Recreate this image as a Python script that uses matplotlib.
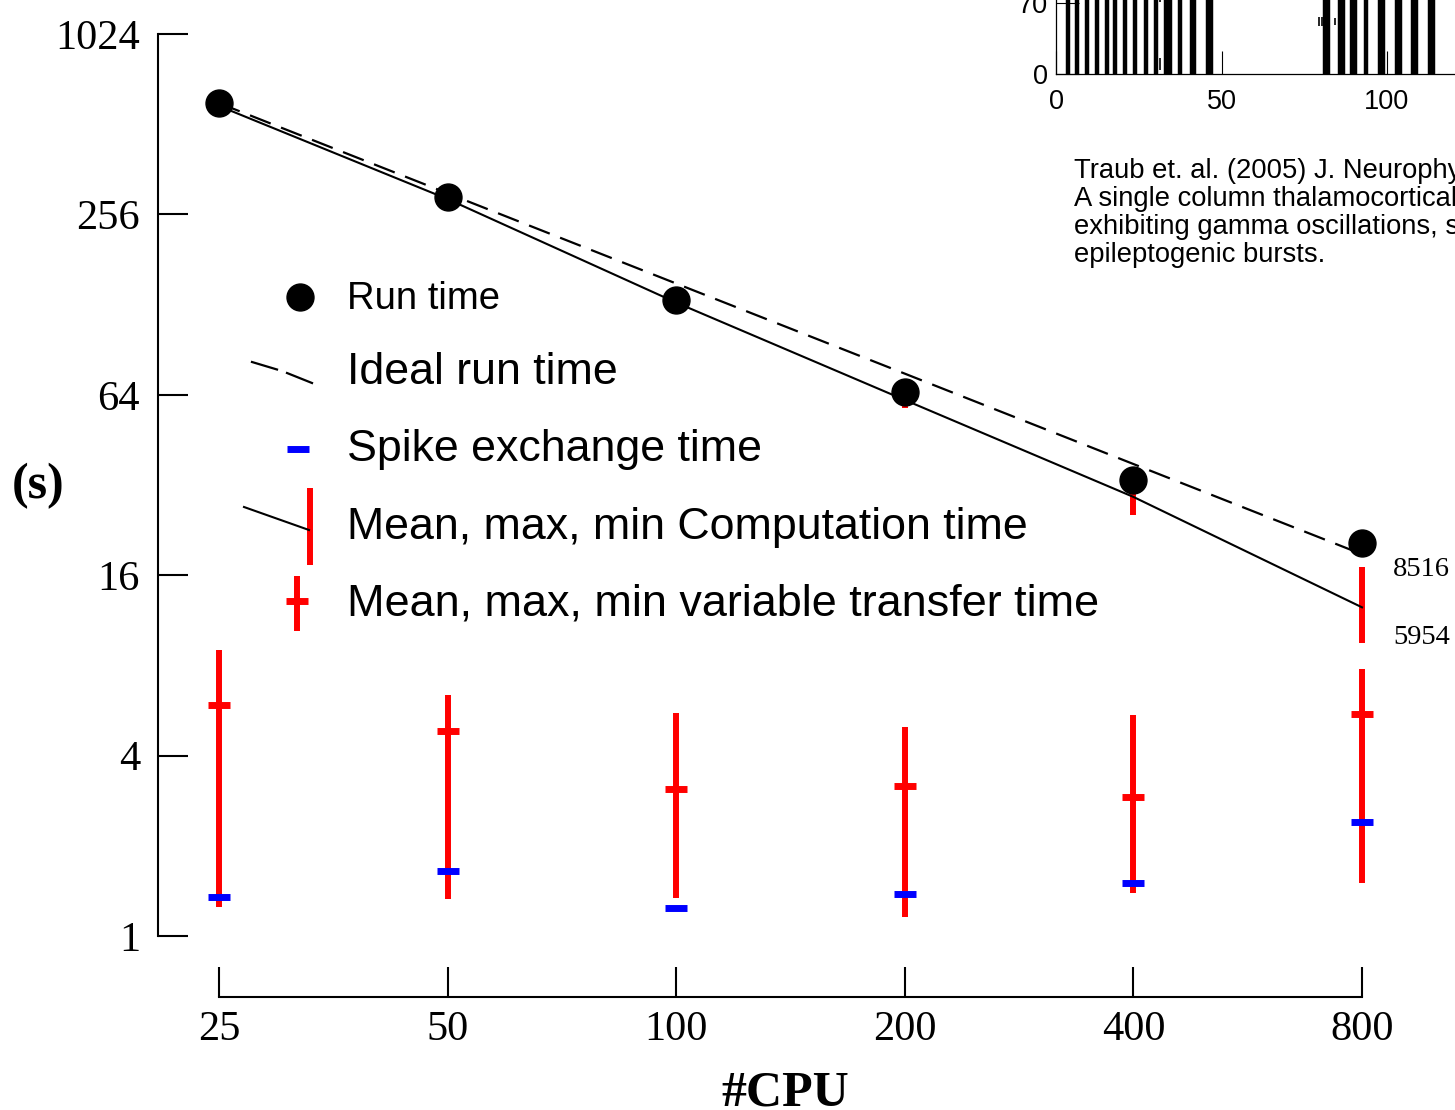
import numpy as np
import matplotlib
matplotlib.use('Agg')
import matplotlib.pyplot as plt

# scaling data (seconds) vs number of CPUs
cpus = [25, 50, 100, 200, 400, 800]
run_time = [602, 293, 133, 65.4, 33.2, 20.5]
ideal_time = [602, 301, 150.5, 75.3, 37.6, 18.8]
comp_mean = [589, 288, 130, 61.5, 29.2, 12.5]
comp_max = [630, 300, 137, 66, 36, 17.1]
comp_min = [565, 278, 124, 57.8, 25.4, 9.5]
xfer_mean = [5.90, 4.83, 3.09, 3.17, 2.91, 5.51]
xfer_max = [9.0, 6.37, 5.55, 4.98, 5.46, 7.78]
xfer_min = [1.25, 1.33, 1.34, 1.16, 1.39, 1.50]
spike_time = [1.35, 1.65, 1.24, 1.38, 1.50, 2.40]
y_ticks = [1, 4, 16, 64, 256, 1024]
side_labels = ['8516', '5954']

# raster of the network model (ms, cell index)
burst_times = [3.5, 6.3, 9.3, 12.3, 15.3, 17.9, 20.8, 23.9, 27.1, 30.1, 33.1, 34.4,
               37.5, 41.0, 41.8, 46.0, 46.7, 81.3, 82.3, 85.8, 86.8, 89.3, 90.3,
               93.8, 97.8, 98.8, 102.9, 103.9, 107.9, 108.8, 113.0, 114.0]
lone_t = [31.4, 31.4, 79.5, 80.4, 81.3, 84.3]
lone_lo = [4, 71, 47, 47, 47, 48]
lone_hi = [16, 74, 56, 56, 56, 55]
caption = ["Traub et. al. (2005) J. Neurophysiol. 93:2194-2232",
           "A single column thalamocortical network model",
           "exhibiting gamma oscillations, sleep spindles and",
           "epileptogenic bursts."]

W, H = 1455, 1110
serif = 'Liberation Serif'
sans = 'Liberation Sans'
RED = '#ff0000'
BLUE = '#0000ff'

fig = plt.figure(figsize=(W / 100, H / 100), dpi=100)

# main axes: left spine at px 158, bottom spine at px 997
px_x, px_y = 228.6, 90.2   # pixels per doubling
ax = fig.add_axes([158 / W, (H - 997) / H, (W - 158) / W, 997 / H])
ax.set_xscale('log', base=2)
ax.set_yscale('log', base=2)
ax.set_xlim(25 / 2 ** ((219 - 158) / px_x), 800 * 2 ** ((W - 1362) / px_x))
ax.set_ylim(2 ** (-(997 - 936) / px_y), 2 ** (936 / px_y))
ax.patch.set_visible(False)

ax.vlines(cpus, comp_min, comp_max, colors=RED, lw=4.3, zorder=2)
ax.vlines(cpus, xfer_min, xfer_max, colors=RED, lw=4.3, zorder=2)
ax.plot(cpus, xfer_mean, ls='none', marker='_', ms=16, mew=5, color=RED, zorder=3)
ax.plot(cpus, spike_time, ls='none', marker='_', ms=16, mew=5, color=BLUE, zorder=3)
ax.plot(cpus, comp_mean, color='black', lw=1.5, zorder=4)
ax.plot(cpus, ideal_time, color='black', lw=1.6, dashes=(10, 5), zorder=4)
ax.plot(cpus, run_time, ls='none', marker='o', ms=19.4, color='black', zorder=5)

for lab, yv, dy in zip(side_labels, [comp_max[-1], comp_min[-1]], [-3, 6]):
    ax.annotate(lab, xy=(cpus[-1], yv), xytext=(31, dy), textcoords='offset pixels',
                ha='left', va='center', fontsize=20.5, family=serif)

for s in ['top', 'right']:
    ax.spines[s].set_visible(False)
ax.spines['left'].set_bounds(1, 1024)
ax.spines['bottom'].set_bounds(25, 800)
for s in ['left', 'bottom']:
    ax.spines[s].set_linewidth(1.5)
ax.set_xticks(cpus)
ax.set_xticklabels([str(c) for c in cpus])
ax.set_yticks(y_ticks)
ax.set_yticklabels([str(v) for v in y_ticks])
ax.minorticks_off()
ax.tick_params(direction='in', length=21.6, width=1.5, labelsize=30.5)
ax.tick_params(axis='y', pad=13)
ax.tick_params(axis='x', pad=10)
for t in ax.get_xticklabels() + ax.get_yticklabels():
    t.set_family(serif)

fig.text(38 / W, 1 - 486 / H, '(s)', ha='center', va='center', fontsize=36,
         family=serif, fontweight='bold')
fig.text(785 / W, 5 / H, '#CPU', ha='center', va='baseline', fontsize=36,
         family=serif, fontweight='bold')

# legend drawn on a pixel-unit overlay
key = fig.add_axes([0, 0, 1, 1], zorder=6)
key.set_xlim(0, W)
key.set_ylim(H, 0)
key.axis('off')
key.plot([300], [297], marker='o', ms=19.4, color='black')
key.plot([252, 277], [362, 369.5], color='black', lw=1.6)
key.plot([287, 312], [373, 383], color='black', lw=1.6)
key.plot([297.5], [449], marker='_', ms=16, mew=5, color=BLUE)
key.plot([310, 310], [488, 565], color=RED, lw=4.3, solid_capstyle='butt')
key.plot([244, 309], [507, 530], color='black', lw=1.5)
key.plot([297, 297], [576, 631], color=RED, lw=4.3, solid_capstyle='butt')
key.plot([297], [601], marker='_', ms=16, mew=5, color=RED)
legend_text = ['Run time', 'Ideal run time', 'Spike exchange time',
               'Mean, max, min Computation time', 'Mean, max, min variable transfer time']
legend_y = [299, 373, 450, 527, 604]
legend_fs = [27.5, 32.2, 32.2, 32.2, 32.4]
for txt, yy, fs in zip(legend_text, legend_y, legend_fs):
    key.text(347, yy, txt, ha='left', va='center', fontsize=fs, family=sans)

# spike raster inset, running off the top right corner
ix_px, iy_px = 3.31, 1.0143
ins = fig.add_axes([1056 / W, (H - 74) / H, 500 / W, 110 / H], zorder=7)
ins.set_xlim(0, 500 / ix_px)
ins.set_ylim(0, 110 / iy_px)
ins.patch.set_visible(False)
ins.vlines(burst_times, 0, 110, colors='black', lw=3.2)
ins.vlines(lone_t, lone_lo, lone_hi, colors='black', lw=1.2)
for s in ['top', 'right']:
    ins.spines[s].set_visible(False)
for s in ['left', 'bottom']:
    ins.spines[s].set_linewidth(0.9)
ins.set_xticks([0, 50, 100])
ins.set_yticks([0, 70])
ins.tick_params(direction='in', length=16.5, width=0.8, labelsize=19.5, pad=6)
ins.tick_params(axis='x', pad=11)
for t in ins.get_xticklabels() + ins.get_yticklabels():
    t.set_family(sans)

for i, line in enumerate(caption):
    fig.text(1074 / W, 1 - (171 + 28 * i) / H, line, ha='left', va='center',
             fontsize=19.7, family=sans)

fig.savefig('out.png', dpi=100)
